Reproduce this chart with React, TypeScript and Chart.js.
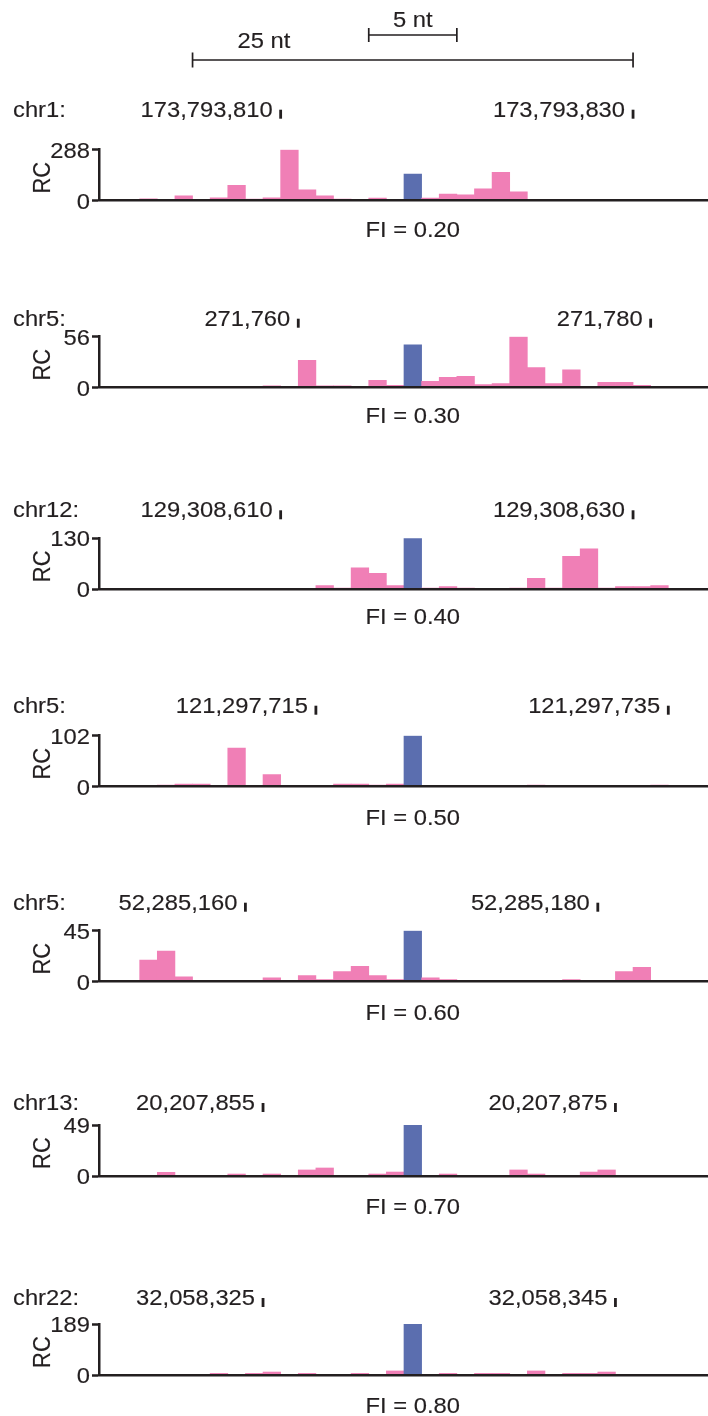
import React, { useEffect, useRef } from "react";
import { Chart, registerables } from "chart.js";

Chart.register(...registerables);

// ---------- data ----------
// nucleotide offset relative to the highlighted (blue) site
const OFFSETS = [-15, -14, -13, -12, -11, -10, -9, -8, -7, -6, -5, -4, -3, -2, -1, 0, 1, 2, 3, 4, 5, 6, 7, 8, 9, 10, 11, 12, 13, 14, 15];

const READS_CHR1 = [10, 0, 28, 0, 16, 87, 9, 16, 288, 62, 27, 9, 0, 15, 8, 150, 15, 38, 33, 67, 160, 50, 0, 0, 0, 7, 7, 7, 7, 0, 0];
const READS_CHR5_A = [0, 0, 0, 0, 0, 0, 0, 2, 0, 30, 2, 2, 0, 8, 2.5, 47, 7, 11.5, 12.5, 3.3, 4.5, 56, 22, 4.5, 19.5, 0, 6, 6, 2.5, 0, 0];
const READS_CHR12 = [0, 0, 0, 0, 0, 0, 0, 0, 0, 0, 9.5, 3.4, 55, 41, 9.5, 130, 3.4, 7, 3.4, 0, 0, 3.4, 28, 3.4, 84, 103, 3.4, 7, 7, 9.5, 0];
const READS_CHR5_B = [0, 3.4, 5.4, 5.4, 0, 77, 0, 24, 0, 0, 0, 5.4, 5.4, 3.4, 5.4, 102, 0, 0, 0, 0, 0, 0, 3.4, 0, 0, 0, 0, 0, 0, 3.4, 0];
const READS_CHR5_C = [19, 27, 4.4, 0, 0, 0, 0, 3.5, 0, 5.3, 1.8, 9, 13.5, 5.3, 1.8, 45, 3.5, 1.8, 0, 0, 0, 0, 0, 0, 1.8, 0, 0, 9, 12.6, 0, 0];
const READS_CHR13 = [0, 3.5, 0, 0, 0, 1.9, 0, 1.9, 0, 5.8, 7.7, 0, 0, 1.9, 3.8, 49, 0, 1.9, 0, 0, 0, 5.8, 1.9, 0, 0, 3.8, 5.8, 0, 0, 0, 0];
const READS_CHR22 = [0, 0, 0, 0, 6, 0, 6, 11, 0, 6, 0, 0, 6, 0, 15, 189, 0, 6, 0, 6, 6, 0, 15, 0, 6, 6, 11, 0, 0, 0, 0];

const READS = [READS_CHR1, READS_CHR5_A, READS_CHR12, READS_CHR5_B, READS_CHR5_C, READS_CHR13, READS_CHR22];
const CHROMOSOMES = ["chr1", "chr5", "chr12", "chr5", "chr5", "chr13", "chr22"];
const SITE_COORDS = [173793817, 271766, 129308617, 121297720, 52285169, 20207863, 32058333];
const LEFT_TICK_COORDS = [173793810, 271760, 129308610, 121297715, 52285160, 20207855, 32058325];
const RIGHT_TICK_COORDS = [173793830, 271780, 129308630, 121297735, 52285180, 20207875, 32058345];
const RC_MAX = [288, 56, 130, 102, 45, 49, 189];
const FI_VALUES = [0.2, 0.3, 0.4, 0.5, 0.6, 0.7, 0.8];
const SCALE_BARS_NT = [5, 25];

// ---------- layout / style ----------
const W = 708;
const ZERO_Y = [200.7, 387.7, 589.3, 786.7, 981.7, 1176, 1375];
const CANVAS_TOP = [0, 258, 460, 657, 852, 1046, 1245];
const CANVAS_H = [260, 180, 180, 180, 180, 180, 171];
const LABEL_RISE = [84, 62, 72, 74, 72, 66, 70];
const FI_DROP = [36, 35, 35, 38, 38, 38, 38];
const AXIS_H = 51;
const AXIS_X = 99;
const PX_PER_NT = 17.62;
const SITE_X = 412.8;
const X_MIN = (AXIS_X - SITE_X) / PX_PER_NT;
const X_MAX = (W - SITE_X) / PX_PER_NT;
const RULER_LAYOUT = [
  { lineY: 35, cap: 7, textY: 27, align: "center" as CanvasTextAlign, dx: 0 },
  { lineY: 60, cap: 7.5, textY: 48, align: "left" as CanvasTextAlign, dx: 45 },
];

const INK = "#231F20";
const PINK = "#F07FB6";
const BLUE = "#5B6EAF";
const FONT = '"Liberation Sans", Arial, Helvetica, sans-serif';
const FONT_PX = 22;
const STRETCH = 1.08;
const CAP = FONT_PX * 0.716;

function drawLabel(
  ctx: CanvasRenderingContext2D,
  text: string,
  x: number,
  y: number,
  align: CanvasTextAlign,
  rotate = false
) {
  ctx.save();
  ctx.translate(x, y);
  if (rotate) {
    ctx.rotate(-Math.PI / 2);
    ctx.scale(1, STRETCH);
  } else {
    ctx.scale(STRETCH, 1);
  }
  ctx.font = `${FONT_PX}px ${FONT}`;
  ctx.fillStyle = INK;
  ctx.strokeStyle = INK;
  ctx.lineWidth = 0.15;
  ctx.textAlign = align;
  ctx.textBaseline = "alphabetic";
  ctx.fillText(text, 0, 0);
  ctx.strokeText(text, 0, 0);
  ctx.restore();
}

function overlayPlugin(i: number) {
  return {
    id: "overlay" + i,
    afterDraw(chart: any) {
      const ctx: CanvasRenderingContext2D = chart.ctx;
      const xs = chart.scales.x;
      const ys = chart.scales.y;
      const zero = ys.getPixelForValue(0);

      // y tick labels
      ys.ticks.forEach((t: any) => {
        const y = ys.getPixelForValue(t.value);
        drawLabel(ctx, String(t.value), ys.right - 9, y + CAP / 2, "right");
      });
      // RC title
      drawLabel(ctx, "RC", 41 + (CAP * STRETCH) / 2, (ys.top + ys.bottom) / 2 + 2.5, "center", true);

      // chromosome + coordinate labels
      const base = zero - LABEL_RISE[i];
      drawLabel(ctx, CHROMOSOMES[i] + ":", 13, base, "left");
      [LEFT_TICK_COORDS[i], RIGHT_TICK_COORDS[i]].forEach((c) => {
        const x = xs.getPixelForValue(c - SITE_COORDS[i] - 0.5);
        ctx.save();
        ctx.fillStyle = INK;
        ctx.fillRect(x - 1.4, base - 7, 2.8, 9);
        ctx.restore();
        drawLabel(ctx, c.toLocaleString("en-US"), x - 8, base, "right");
      });

      // FI label
      drawLabel(ctx, "FI = " + FI_VALUES[i].toFixed(2), xs.getPixelForValue(0), zero + FI_DROP[i], "center");

      // scale bars (first panel only)
      if (i === 0) {
        SCALE_BARS_NT.forEach((nt, k) => {
          const L = RULER_LAYOUT[k];
          const x1 = xs.getPixelForValue(-nt / 2);
          const x2 = xs.getPixelForValue(nt / 2);
          ctx.save();
          ctx.strokeStyle = INK;
          ctx.lineWidth = 1.7;
          ctx.beginPath();
          ctx.moveTo(x1, L.lineY);
          ctx.lineTo(x2, L.lineY);
          ctx.moveTo(x1, L.lineY - L.cap);
          ctx.lineTo(x1, L.lineY + L.cap);
          ctx.moveTo(x2, L.lineY - L.cap);
          ctx.lineTo(x2, L.lineY + L.cap);
          ctx.stroke();
          ctx.restore();
          const tx = L.align === "center" ? (x1 + x2) / 2 : x1 + L.dx;
          drawLabel(ctx, `${nt} nt`, tx, L.textY, L.align);
        });
      }
    },
  };
}

function Panel({ i }: { i: number }) {
  const ref = useRef<HTMLCanvasElement>(null);
  useEffect(() => {
    const canvas = ref.current;
    if (!canvas) return;
    const top = CANVAS_TOP[i];
    const zeroLocal = ZERO_Y[i] - top;
    const chart = new Chart(canvas, {
      type: "bar",
      data: {
        datasets: [
          {
            data: OFFSETS.map((x, k) => ({ x, y: READS[i][k] })),
            backgroundColor: OFFSETS.map((x) => (x === 0 ? BLUE : PINK)),
            borderWidth: 0,
            barPercentage: 1,
            categoryPercentage: 1,
          } as any,
        ],
      },
      options: {
        animation: false,
        responsive: false,
        maintainAspectRatio: false,
        devicePixelRatio: 1,
        events: [],
        layout: {
          padding: {
            left: 0,
            right: 0,
            top: zeroLocal - AXIS_H,
            bottom: CANVAS_H[i] - zeroLocal,
          },
        },
        plugins: {
          legend: { display: false },
          tooltip: { enabled: false },
        },
        scales: {
          x: {
            type: "linear",
            min: X_MIN,
            max: X_MAX,
            offset: false,
            display: true,
            grid: { display: false },
            border: { display: true, color: INK, width: 2.5, z: 1 },
            ticks: { display: false, stepSize: 1, includeBounds: false },
            afterFit: (s: any) => {
              s.height = 0;
            },
          },
          y: {
            type: "linear",
            min: 0,
            max: RC_MAX[i],
            display: true,
            grid: {
              display: true,
              drawOnChartArea: false,
              drawTicks: true,
              tickLength: 7,
              tickWidth: 2.5,
              tickColor: INK,
              color: INK,
              z: 1,
            },
            border: { display: true, color: INK, width: 2.5, z: 1 },
            ticks: { display: false },
            afterBuildTicks: (s: any) => {
              s.ticks = [{ value: 0 }, { value: RC_MAX[i] }];
            },
            afterFit: (s: any) => {
              s.width = AXIS_X;
            },
          },
        } as any,
      },
      plugins: [overlayPlugin(i)],
    });
    return () => chart.destroy();
  }, [i]);
  return (
    <canvas
      ref={ref}
      width={W}
      height={CANVAS_H[i]}
      style={{ position: "absolute", left: 0, top: CANVAS_TOP[i], width: W, height: CANVAS_H[i] }}
    />
  );
}

export default function App() {
  return (
    <div
      style={{
        position: "fixed",
        left: 0,
        top: 0,
        width: W,
        height: 1416,
        background: "#ffffff",
        overflow: "hidden",
      }}
    >
      {READS.map((_, i) => (
        <Panel key={i} i={i} />
      ))}
    </div>
  );
}
